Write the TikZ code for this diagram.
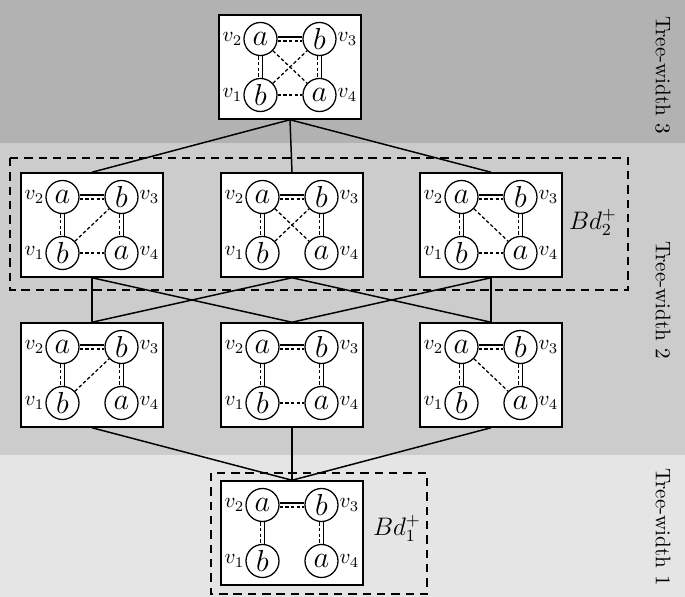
\documentclass[tikz,border=0pt]{standalone}
\usetikzlibrary{positioning}

% one graph on four vertices, framed
\newcommand{\graphbox}[3]{%
  \node[gframe] (#1) at (#2,#3) {};
  \begin{scope}[shift={(#2,#3)}]
    \node[vert, label={[lbl]left:$v_2$}]  (#1-2) at (-29.5,-28) {$a$};
    \node[vert, label={[lbl]right:$v_3$}] (#1-3) at (29.5,-28)  {$b$};
    \node[vert, label={[lbl]left:$v_1$}]  (#1-1) at (-29.5,28)  {$b$};
    \node[vert, label={[lbl]right:$v_4$}] (#1-4) at (29.5,28)   {$a$};
  \end{scope}
  % edges carrying both relations
  \draw[hard] ([yshift=1pt]#1-2.east) -- ([yshift=1pt]#1-3.west);
  \draw[soft] ([yshift=-1pt]#1-2.east) -- ([yshift=-1pt]#1-3.west);
  \draw[soft] ([xshift=-1pt]#1-2.south) -- ([xshift=-1pt]#1-1.north);
  \draw[hard] ([xshift=1pt]#1-2.south) -- ([xshift=1pt]#1-1.north);
  \draw[soft] ([xshift=-1pt]#1-3.south) -- ([xshift=-1pt]#1-4.north);
  \draw[hard] ([xshift=1pt]#1-3.south) -- ([xshift=1pt]#1-4.north);
}
% dashed edge only
\newcommand{\softedge}[3]{\draw[soft] (#1-#2) -- (#1-#3);}

\tikzset{
  gframe/.style={draw, fill=white, line width=0.8pt, minimum width=2.37cm,
    minimum height=1.73cm, inner sep=0pt},
  vert/.style={circle, draw, fill=white, line width=0.6pt, minimum size=0.55cm,
    inner sep=0pt, font=\Large},
  lbl/.style={font=\normalsize, inner sep=0.3pt},
  soft/.style={line width=0.6pt, dash pattern=on 1.6pt off 1.1pt},
  hard/.style={line width=0.6pt},
  link/.style={line width=0.7pt},
  bag/.style={line width=0.8pt, dash pattern=on 4pt off 2.8pt},
  twlabel/.style={rotate=-90}
}

\begin{document}
\begin{tikzpicture}[x=0.01667cm, y=-0.01667cm]

    \useasboundingbox (0,0) rectangle (685,597);

    % Bands for the tree-width levels
    \fill[black!30] (0,0) rectangle (685,143);
    \fill[black!20] (0,143) rectangle (685,455);
    \fill[black!10] (0,455) rectangle (685,597);

    % Dashed groups
    \draw[bag] (10,158) rectangle (628,290);
    \draw[bag] (211,473) rectangle (427,594);

    % Tree-width 3
    \graphbox{top}{290}{67}
    \softedge{top}{1}{4}
    \softedge{top}{2}{4}
    \softedge{top}{1}{3}

    % Tree-width 2, upper row
    \graphbox{ul}{92}{225}
    \softedge{ul}{1}{3}
    \softedge{ul}{1}{4}
    \graphbox{um}{292}{225}
    \softedge{um}{2}{4}
    \softedge{um}{1}{3}
    \graphbox{ur}{491}{225}
    \softedge{ur}{2}{4}
    \softedge{ur}{1}{4}

    % Tree-width 2, lower row
    \graphbox{ll}{92}{375}
    \softedge{ll}{1}{3}
    \graphbox{lm}{292}{375}
    \softedge{lm}{1}{4}
    \graphbox{lr}{491}{375}
    \softedge{lr}{2}{4}

    % Tree-width 1
    \graphbox{bot}{292}{533}

    % Links between the levels
    \draw[link] (top.south) -- (ul.north);
    \draw[link] (top.south) -- (um.north);
    \draw[link] (top.south) -- (ur.north);
    \draw[link] (ul.south) -- (ll.north);
    \draw[link] (ul.south) -- (lm.north);
    \draw[link] (um.south) -- (ll.north);
    \draw[link] (um.south) -- (lr.north);
    \draw[link] (ur.south) -- (lm.north);
    \draw[link] (ur.south) -- (lr.north);
    \draw[link] (ll.south) -- (bot.north);
    \draw[link] (lm.south) -- (bot.north);
    \draw[link] (lr.south) -- (bot.north);

    % Labels
    \node (bd2) at (593,222) {\large $Bd_2^+$};
    \node (bd1) at (397,528) {\large $Bd_1^+$};
    \node[twlabel] (tw3) at (663,75) {Tree-width 3};
    \node[twlabel] (tw2) at (663,300) {Tree-width 2};
    \node[twlabel] (tw1) at (663,527) {Tree-width 1};

\end{tikzpicture}
\end{document}
